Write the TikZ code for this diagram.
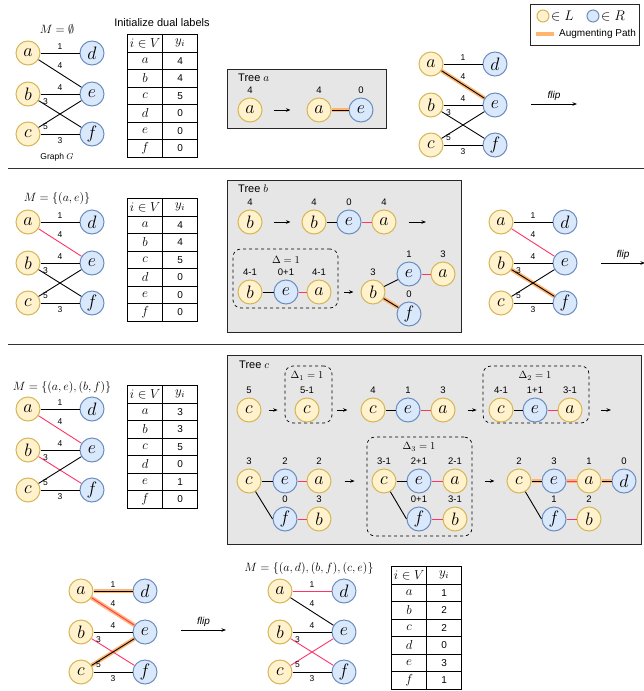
\RequirePackage{fix-cm}
\documentclass[tikz,border=0pt]{standalone}
\usepackage{amsmath}
\usepackage{fontspec}
\setmainfont{Liberation Sans}
\usepackage{tikz}
\usetikzlibrary{arrows.meta,positioning,matrix}
\definecolor{lfill}{HTML}{FFF2CC}
\definecolor{ldraw}{HTML}{D6B656}
\definecolor{rfill}{HTML}{DAE8FC}
\definecolor{rdraw}{HTML}{6C8EBF}
\definecolor{mred}{HTML}{FF3366}
\definecolor{augorange}{HTML}{FFB570}
\definecolor{treegray}{HTML}{E6E6E6}
\newcommand{\vtxfont}{\fontsize{18}{18}\selectfont}
\newcommand{\wfont}{\fontsize{8.5}{9}\selectfont}
\newcommand{\yfont}{\fontsize{9.5}{10}\selectfont}
\newcommand{\mfont}{\fontsize{12}{13}\selectfont}
\newcommand{\tmath}[1]{{\fontsize{13}{13}\selectfont$#1$}}

\begin{document}
\begin{tikzpicture}[x=1pt,y=-1pt,
    lnode/.style={circle, draw=ldraw, fill=lfill, line width=1pt, minimum size=24pt, inner sep=0pt, font=\vtxfont},
    rnode/.style={lnode, draw=rdraw, fill=rfill},
    edge/.style={line width=0.9pt},
    medge/.style={edge, draw=mred},
    aug/.style={line width=4pt, draw=augorange},
    wlab/.style={font=\wfont, inner sep=1pt},
    ylab/.style={font=\yfont, inner sep=1pt},
    dv/.style={label={[ylab]above:#1}},
    label distance=3pt,
    wad/.style={midway, above=2pt},
    wae/.style={midway, above=4pt},
    wbe/.style={midway, above=2pt},
    wbf/.style={pos=0.16, yshift=3.5pt},
    wce/.style={pos=0.16, yshift=-3.5pt},
    wcf/.style={midway, below=2pt},
    flow/.style={-{Stealth[length=4.5pt,width=3.5pt]}, line width=0.75pt},
    fliplab/.style={font=\fontsize{10}{10}\selectfont\itshape, above=2pt, inner sep=1pt},
    mlab/.style={font=\mfont, inner sep=0pt},
    dlab/.style={font=\fontsize{10.5}{11}\selectfont, inner sep=0pt},
    titlelab/.style={font=\fontsize{11}{11}\selectfont, anchor=west, inner sep=0pt},
    treebox/.style={draw=black!85, fill=treegray, line width=1pt, anchor=north west, inner sep=0pt},
    dbox/.style={draw, dashed, rounded corners=8pt, line width=0.7pt, inner sep=0pt},
    sepline/.style={draw=black!80, line width=1pt},
    dualtab/.style={matrix of nodes, anchor=north west, inner sep=0pt,
        nodes={draw, line width=0.9pt, minimum width=35pt, minimum height=17.5pt,
               inner sep=0pt, anchor=center, font=\fontsize{10}{10}\selectfont},
        column sep=-0.9pt, row sep=-0.9pt}]

\useasboundingbox (0,0) rectangle (644,691);

% =========================
% Row 1: graph G, initial duals, tree a
% =========================
\node[mlab] (m0) at (57,29) {$M=\emptyset$};
\begin{scope}[shift={(28,53)}]
    \foreach \v/\px/\py/\s in {a/0/0/lnode,b/0/41/lnode,c/0/81/lnode,d/64/0/rnode,e/64/41/rnode,f/64/81/rnode}
        \node[\s] (g0\v) at (\px,\py) {$\v$};
    \draw[edge] (g0a) -- node[wlab,wad] (g0w1) {1} (g0d);
    \draw[edge] (g0a) -- node[wlab,wae] (g0w2) {4} (g0e);
    \draw[edge] (g0b) -- node[wlab,wbe] (g0w3) {4} (g0e);
    \draw[edge] (g0b) -- node[wlab,wbf] (g0w4) {3} (g0f);
    \draw[edge] (g0c) -- node[wlab,wce] (g0w5) {5} (g0e);
    \draw[edge] (g0c) -- node[wlab,wcf] (g0w6) {3} (g0f);
\end{scope}
\node[font=\fontsize{8.5}{9}\selectfont] (gname) at (57,157) {Graph $G$};

\node[font=\fontsize{11}{11}\selectfont] (inittxt) at (162,23) {Initialize dual labels};
\matrix (tab0) [dualtab] at (127,34) {
    \tmath{i\in V} & \tmath{y_i} \\
    \tmath{a} & 4 \\
    \tmath{b} & 4 \\
    \tmath{c} & 5 \\
    \tmath{d} & 0 \\
    \tmath{e} & 0 \\
    \tmath{f} & 0 \\
};

% tree a
\node[treebox, minimum width=159pt, minimum height=59pt] (treeA) at (227,69) {};
\node[titlelab] (treeAt) at (238,78) {Tree $a$};
\node[lnode, dv=4] (ta1) at (250,110) {$a$};
\node[lnode, dv=4] (ta2) at (319,110) {$a$};
\node[rnode, dv=0] (ta3) at (361,110) {$e$};
\draw[flow, shorten <=11pt, shorten >=16pt] (ta1) -- (ta2);
\draw[aug] (ta2) -- (ta3);
\draw[edge] (ta2) -- (ta3);

% graph after tree a
\begin{scope}[shift={(431,64)}]
    \foreach \v/\px/\py/\s in {a/0/0/lnode,b/0/41/lnode,c/0/81/lnode,d/64/0/rnode,e/64/41/rnode,f/64/81/rnode}
        \node[\s] (g1\v) at (\px,\py) {$\v$};
    \draw[aug] (g1a) -- (g1e);
    \draw[edge] (g1a) -- node[wlab,wad] (g1w1) {1} (g1d);
    \draw[edge] (g1a) -- node[wlab,wae] (g1w2) {4} (g1e);
    \draw[edge] (g1b) -- node[wlab,wbe] (g1w3) {4} (g1e);
    \draw[edge] (g1b) -- node[wlab,wbf] (g1w4) {3} (g1f);
    \draw[edge] (g1c) -- node[wlab,wce] (g1w5) {5} (g1e);
    \draw[edge] (g1c) -- node[wlab,wcf] (g1w6) {3} (g1f);
\end{scope}
\coordinate (fl1s) at (531,104);
\coordinate (fl1e) at (577,104);
\draw[flow] (fl1s) -- node[fliplab] (fl1t) {flip} (fl1e);

% legend
\node[draw=black!85, line width=1.2pt, fill=white, minimum width=109pt, minimum height=41pt, anchor=north west] (legend) at (530,4) {};
\node[lnode, minimum size=12pt] (legL) at (543,16) {};
\node[font=\fontsize{14}{14}\selectfont, inner sep=0pt, right=1.5pt of legL] (legLt) {$\in L$};
\node[rnode, minimum size=12pt] (legR) at (593,16) {};
\node[font=\fontsize{14}{14}\selectfont, inner sep=0pt, right=1.5pt of legR] (legRt) {$\in R$};
\draw[aug] (536,34) -- (554,34);
\node[titlelab, font=\fontsize{10}{10}\selectfont] (legAt) at (559,34) {Augmenting Path};

\draw[sepline] (8,168) -- (644,168);

% =========================
% Row 2: M = {(a,e)}, tree b
% =========================
\node[mlab] (m1) at (57,198) {$M=\{(a,e)\}$};
\begin{scope}[shift={(28,222)}]
    \foreach \v/\px/\py/\s in {a/0/0/lnode,b/0/41/lnode,c/0/81/lnode,d/64/0/rnode,e/64/41/rnode,f/64/81/rnode}
        \node[\s] (g2\v) at (\px,\py) {$\v$};
    \draw[edge] (g2a) -- node[wlab,wad] (g2w1) {1} (g2d);
    \draw[medge] (g2a) -- node[wlab,wae] (g2w2) {4} (g2e);
    \draw[edge] (g2b) -- node[wlab,wbe] (g2w3) {4} (g2e);
    \draw[edge] (g2b) -- node[wlab,wbf] (g2w4) {3} (g2f);
    \draw[edge] (g2c) -- node[wlab,wce] (g2w5) {5} (g2e);
    \draw[edge] (g2c) -- node[wlab,wcf] (g2w6) {3} (g2f);
\end{scope}
\matrix (tab1) [dualtab] at (127,198) {
    \tmath{i\in V} & \tmath{y_i} \\
    \tmath{a} & 4 \\
    \tmath{b} & 4 \\
    \tmath{c} & 5 \\
    \tmath{d} & 0 \\
    \tmath{e} & 0 \\
    \tmath{f} & 0 \\
};

% tree b
\node[treebox, minimum width=234pt, minimum height=152pt] (treeB) at (227,180) {};
\node[titlelab] (treeBt) at (238,189) {Tree $b$};
\node[lnode, dv=4] (tb1) at (250,222) {$b$};
\node[lnode, dv=4] (tb2) at (314,222) {$b$};
\node[rnode, dv=0] (tb3) at (349,222) {$e$};
\node[lnode, dv=4] (tb4) at (384,222) {$a$};
\coordinate (tbnext) at (426,222);
\draw[flow, shorten <=11pt, shorten >=11pt] (tb1) -- (tb2);
\draw[edge] (tb2) -- (tb3);
\draw[medge] (tb3) -- (tb4);
\draw[flow, shorten <=12pt] (tb4) -- (tbnext);

\node[dbox, minimum width=105pt, minimum height=59pt] (boxB) at (285.5,278.5) {};
\node[dlab] (boxBt) at (286,260) {$\Delta=1$};
\node[lnode, dv={4-1}] (tb5) at (250,292) {$b$};
\node[rnode, dv={0+1}] (tb6) at (286,292) {$e$};
\node[lnode, dv={4-1}] (tb7) at (319,292) {$a$};
\draw[edge] (tb5) -- (tb6);
\draw[medge] (tb6) -- (tb7);

\node[lnode, dv=3] (tb8) at (373,292) {$b$};
\node[rnode, dv=1] (tb9) at (409,274) {$e$};
\node[lnode, dv=3] (tb10) at (443,274) {$a$};
\node[rnode, dv=0] (tb11) at (409,314) {$f$};
\draw[flow, shorten <=0pt, shorten >=7pt] ([xshift=6pt]boxB.east |- tb8) -- (tb8);
\draw[edge] (tb8) -- (tb9);
\draw[medge] (tb9) -- (tb10);
\draw[aug] (tb8) -- (tb11);
\draw[edge] (tb8) -- (tb11);

% graph after tree b
\begin{scope}[shift={(501,222)}]
    \foreach \v/\px/\py/\s in {a/0/0/lnode,b/0/41/lnode,c/0/81/lnode,d/64/0/rnode,e/64/41/rnode,f/64/81/rnode}
        \node[\s] (g3\v) at (\px,\py) {$\v$};
    \draw[aug] (g3b) -- (g3f);
    \draw[edge] (g3a) -- node[wlab,wad] (g3w1) {1} (g3d);
    \draw[medge] (g3a) -- node[wlab,wae] (g3w2) {4} (g3e);
    \draw[edge] (g3b) -- node[wlab,wbe] (g3w3) {4} (g3e);
    \draw[edge] (g3b) -- node[wlab,wbf] (g3w4) {3} (g3f);
    \draw[edge] (g3c) -- node[wlab,wce] (g3w5) {5} (g3e);
    \draw[edge] (g3c) -- node[wlab,wcf] (g3w6) {3} (g3f);
\end{scope}
\coordinate (fl2s) at (601,263);
\coordinate (fl2e) at (645,263);
\draw[flow] (fl2s) -- node[fliplab] (fl2t) {flip} (fl2e);

\draw[sepline] (8,344) -- (644,344);

% =========================
% Row 3: M = {(a,e),(b,f)}, tree c
% =========================
\node[mlab] (m2) at (62,387) {$M=\{(a,e),(b,f)\}$};
\begin{scope}[shift={(28,409)}]
    \foreach \v/\px/\py/\s in {a/0/0/lnode,b/0/41/lnode,c/0/81/lnode,d/64/0/rnode,e/64/41/rnode,f/64/81/rnode}
        \node[\s] (g4\v) at (\px,\py) {$\v$};
    \draw[edge] (g4a) -- node[wlab,wad] (g4w1) {1} (g4d);
    \draw[medge] (g4a) -- node[wlab,wae] (g4w2) {4} (g4e);
    \draw[edge] (g4b) -- node[wlab,wbe] (g4w3) {4} (g4e);
    \draw[medge] (g4b) -- node[wlab,wbf] (g4w4) {3} (g4f);
    \draw[edge] (g4c) -- node[wlab,wce] (g4w5) {5} (g4e);
    \draw[edge] (g4c) -- node[wlab,wcf] (g4w6) {3} (g4f);
\end{scope}
\matrix (tab2) [dualtab] at (127,385) {
    \tmath{i\in V} & \tmath{y_i} \\
    \tmath{a} & 3 \\
    \tmath{b} & 3 \\
    \tmath{c} & 5 \\
    \tmath{d} & 0 \\
    \tmath{e} & 1 \\
    \tmath{f} & 0 \\
};

% tree c
\node[treebox, minimum width=414pt, minimum height=189pt] (treeC) at (227,355) {};
\node[titlelab] (treeCt) at (239,365) {Tree $c$};
\node[lnode, dv=5] (tc1) at (249,410) {$c$};
\node[dbox, minimum width=47pt, minimum height=57pt] (boxC1) at (308.5,394.5) {};
\node[dlab] (boxC1t) at (307,376) {$\Delta_1=1$};
\node[lnode, dv={5-1}] (tc2) at (307,410) {$c$};
\draw[flow, shorten <=7pt, shorten >=7pt] (tc1) -- (boxC1.west |- tc1);

\node[lnode, dv=4] (tc3) at (373,410) {$c$};
\node[rnode, dv=1] (tc4) at (408,410) {$e$};
\node[lnode, dv=3] (tc5) at (443,410) {$a$};
\draw[flow, shorten <=5pt, shorten >=13pt] (boxC1.east |- tc3) -- (tc3);
\draw[edge] (tc3) -- (tc4);
\draw[medge] (tc4) -- (tc5);

\node[dbox, minimum width=106pt, minimum height=57pt] (boxC2) at (536,394.5) {};
\node[dlab] (boxC2t) at (535,376) {$\Delta_2=1$};
\node[lnode, dv={4-1}] (tc6) at (501,410) {$c$};
\node[rnode, dv={1+1}] (tc7) at (535,410) {$e$};
\node[lnode, dv={3-1}] (tc8) at (570,410) {$a$};
\draw[flow, shorten <=12pt, shorten >=6pt] (tc5) -- (boxC2.west |- tc5);
\draw[edge] (tc6) -- (tc7);
\draw[medge] (tc7) -- (tc8);
\coordinate (tcnext) at (611,410);
\draw[flow, shorten <=12pt] (boxC2.east |- tcnext) -- (tcnext);

% tree c, second line
\node[lnode, dv=3] (tc9) at (249,481) {$c$};
\node[rnode, dv=2] (tc10) at (285,481) {$e$};
\node[lnode, dv=2] (tc11) at (319,481) {$a$};
\node[rnode, dv=0] (tc12) at (285,519) {$f$};
\node[lnode, dv=3] (tc13) at (319,519) {$b$};
\draw[edge] (tc9) -- (tc10);
\draw[medge] (tc10) -- (tc11);
\draw[edge] (tc9) -- (tc12.west);
\draw[medge] (tc12) -- (tc13);

\node[dbox, minimum width=105pt, minimum height=99pt] (boxC3) at (419.5,486.5) {};
\node[dlab] (boxC3t) at (419,447) {$\Delta_3=1$};
\node[lnode, dv={3-1}] (tc14) at (384,481) {$c$};
\node[rnode, dv={2+1}] (tc15) at (419,481) {$e$};
\node[lnode, dv={2-1}] (tc16) at (455,481) {$a$};
\node[rnode, dv={0+1}] (tc17) at (419,519) {$f$};
\node[lnode, dv={3-1}] (tc18) at (455,519) {$b$};
\draw[flow, shorten <=13pt, shorten >=12pt] (tc11) -- (boxC3.west |- tc11);
\draw[edge] (tc14) -- (tc15);
\draw[medge] (tc15) -- (tc16);
\draw[edge] (tc14) -- (tc17.west);
\draw[medge] (tc17) -- (tc18);

\node[lnode, dv=2] (tc19) at (519,481) {$c$};
\node[rnode, dv=3] (tc20) at (554,481) {$e$};
\node[lnode, dv=1] (tc21) at (589,481) {$a$};
\node[rnode, dv=0] (tc22) at (624,481) {$d$};
\node[rnode, dv=1] (tc23) at (554,519) {$f$};
\node[lnode, dv=2] (tc24) at (589,519) {$b$};
\draw[flow, shorten <=13pt, shorten >=12pt] (boxC3.east |- tc19) -- (tc19);
\draw[aug] (tc19) -- (tc20);
\draw[aug] (tc20) -- (tc21);
\draw[aug] (tc21) -- (tc22);
\draw[edge] (tc19) -- (tc20);
\draw[medge] (tc20) -- (tc21);
\draw[edge] (tc21) -- (tc22);
\draw[edge] (tc19) -- (tc23.west);
\draw[medge] (tc23) -- (tc24);

% =========================
% Bottom: augment and flip
% =========================
\begin{scope}[shift={(81,591)}]
    \foreach \v/\px/\py/\s in {a/0/0/lnode,b/0/41/lnode,c/0/81/lnode,d/64/0/rnode,e/64/41/rnode,f/64/81/rnode}
        \node[\s] (g5\v) at (\px,\py) {$\v$};
    \draw[aug] (g5a) -- (g5d);
    \draw[aug] (g5a) -- (g5e);
    \draw[aug] (g5c) -- (g5e);
    \draw[edge] (g5a) -- node[wlab,wad] (g5w1) {1} (g5d);
    \draw[medge] (g5a) -- node[wlab,wae] (g5w2) {4} (g5e);
    \draw[edge] (g5b) -- node[wlab,wbe] (g5w3) {4} (g5e);
    \draw[medge] (g5b) -- node[wlab,wbf] (g5w4) {3} (g5f);
    \draw[edge] (g5c) -- node[wlab,wce] (g5w5) {5} (g5e);
    \draw[edge] (g5c) -- node[wlab,wcf] (g5w6) {3} (g5f);
\end{scope}
\coordinate (fl3s) at (181,630);
\coordinate (fl3e) at (226,630);
\draw[flow] (fl3s) -- node[fliplab] (fl3t) {flip} (fl3e);

\node[mlab] (m3) at (309,568) {$M=\{(a,d),(b,f),(c,e)\}$};
\begin{scope}[shift={(280,591)}]
    \foreach \v/\px/\py/\s in {a/0/0/lnode,b/0/41/lnode,c/0/81/lnode,d/64/0/rnode,e/64/41/rnode,f/64/81/rnode}
        \node[\s] (g6\v) at (\px,\py) {$\v$};
    \draw[medge] (g6a) -- node[wlab,wad] (g6w1) {1} (g6d);
    \draw[edge] (g6a) -- node[wlab,wae] (g6w2) {4} (g6e);
    \draw[edge] (g6b) -- node[wlab,wbe] (g6w3) {4} (g6e);
    \draw[medge] (g6b) -- node[wlab,wbf] (g6w4) {3} (g6f);
    \draw[medge] (g6c) -- node[wlab,wce] (g6w5) {5} (g6e);
    \draw[edge] (g6c) -- node[wlab,wcf] (g6w6) {3} (g6f);
\end{scope}
\matrix (tab3) [dualtab] at (391,566) {
    \tmath{i\in V} & \tmath{y_i} \\
    \tmath{a} & 1 \\
    \tmath{b} & 2 \\
    \tmath{c} & 2 \\
    \tmath{d} & 0 \\
    \tmath{e} & 3 \\
    \tmath{f} & 1 \\
};

\end{tikzpicture}
\end{document}
